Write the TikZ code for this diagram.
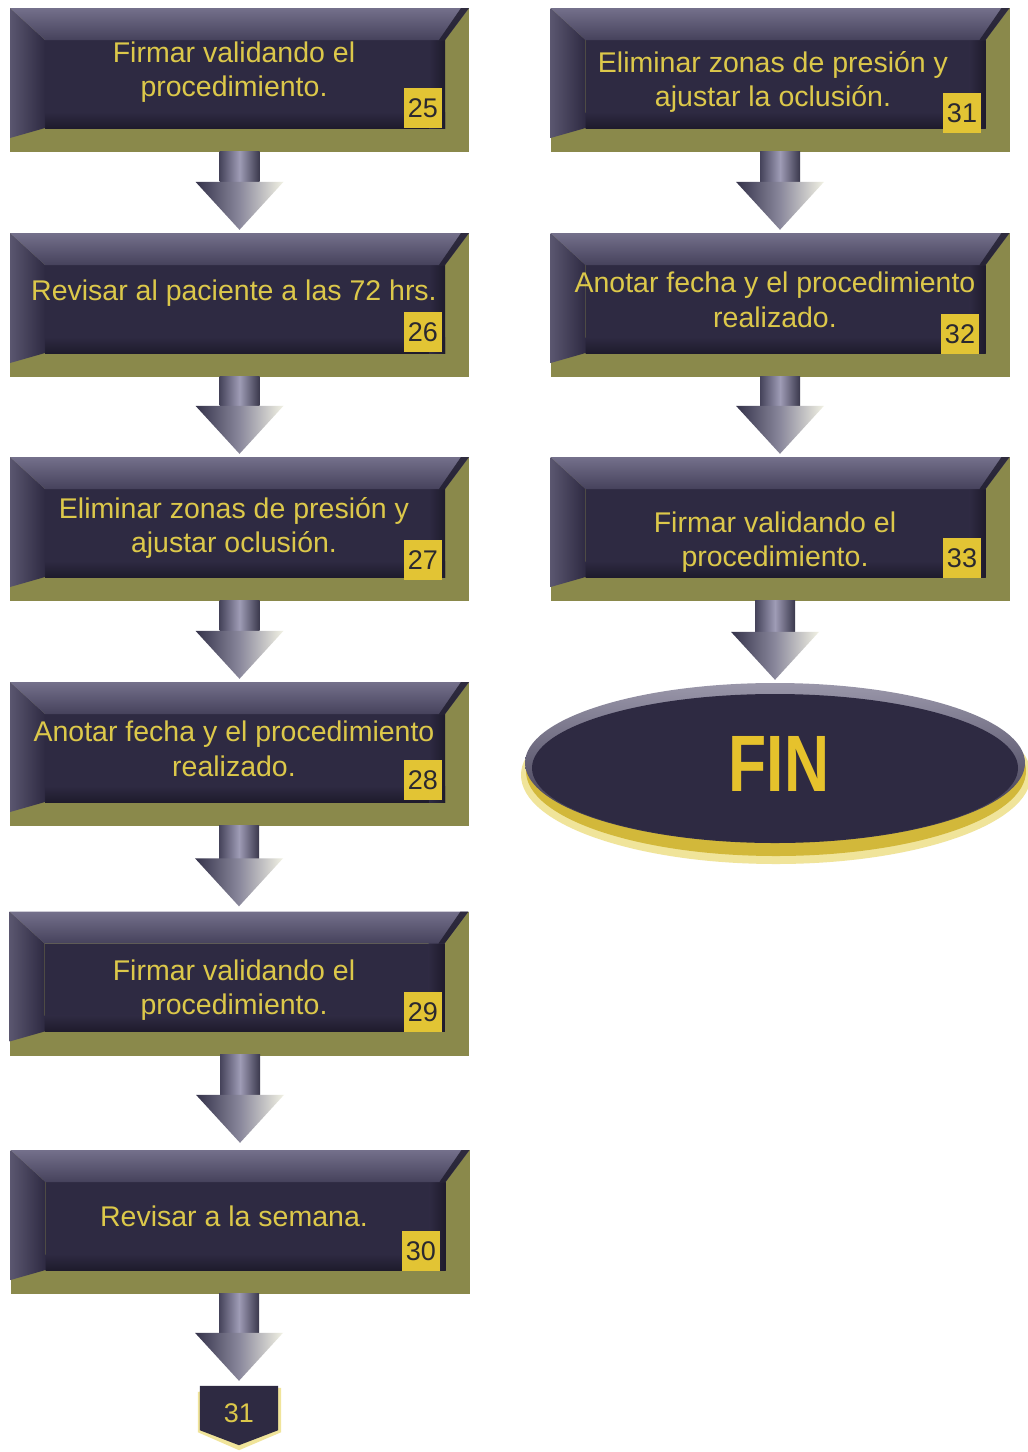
\documentclass[tikz,border=0pt]{standalone}
\usepackage{fontspec}
\setmainfont{Liberation Sans}
\usetikzlibrary{calc,shapes.geometric}
\definecolor{navy}{HTML}{2E2A42}
\definecolor{navydk}{HTML}{1E1B2C}
\definecolor{olivec}{HTML}{8A894B}
\definecolor{bevtop}{HTML}{74708B}
\definecolor{bevtopb}{HTML}{46425C}
\definecolor{bevleft}{HTML}{5A566F}
\definecolor{txtyel}{HTML}{DCC84A}
\definecolor{badgey}{HTML}{E2C434}
\definecolor{badgetxt}{HTML}{2A2830}
\definecolor{arrL}{HTML}{45435A}
\definecolor{arrM}{HTML}{9F9CB6}
\definecolor{arrR}{HTML}{3A384C}
\definecolor{headL}{HTML}{34324A}
\definecolor{headM}{HTML}{8A889C}
\definecolor{headR}{HTML}{F2F2E4}
\definecolor{finyel}{HTML}{E6C22C}
\definecolor{glowA}{HTML}{F0E49A}
\definecolor{glowB}{HTML}{D2B83A}
\definecolor{rimgray}{HTML}{9A97AA}
\tikzset{
  stepbox/.style={rectangle, minimum width=459pt, minimum height=144pt, inner sep=0pt,
    fill=olivec,
    path picture={
      \path (path picture bounding box.north west) coordinate (pnw)
            (path picture bounding box.north east) coordinate (pne)
            (path picture bounding box.south west) coordinate (psw)
            (path picture bounding box.south east) coordinate (pse);
      \fill[navy] ($(pnw)+(35,32)$) rectangle ($(pse)+(-24,-24)$);
      \shade[top color=navy, bottom color=navydk] ($(psw)+(35,-40)$) rectangle ($(pse)+(-24,-24)$);
      \shade[left color=navy, right color=navydk] ($(pne)+(-40,32)$) rectangle ($(pse)+(-24,-24)$);
      \shade[left color=bevleft, right color=navy] (pnw) -- ($(pnw)+(35,32)$) -- ($(psw)+(35,-24)$) -- ($(psw)+(0,-14)$) -- cycle;
      \shade[top color=bevtop, bottom color=bevtopb] (pnw) -- (pne) -- ($(pne)+(-24,32)$) -- ($(pnw)+(35,32)$) -- cycle;
      \fill[navydk, opacity=.8] (pne) -- ($(pne)+(-24,32)$) -- ($(pne)+(-30,32)$) -- ($(pne)+(-8,0)$) -- cycle;
    }},
  steptext/.style={text=txtyel, align=center, inner sep=0pt,
    font=\fontsize{28.5}{34.5}\selectfont},
  badge/.style={rectangle, minimum width=38pt, minimum height=40pt, inner sep=0pt,
    fill=badgey, text=badgetxt, font=\fontsize{27}{27}\selectfont},
  finnode/.style={ellipse, minimum width=500pt, minimum height=160pt, inner sep=0pt},
  conn/.style={rectangle, minimum width=78pt, minimum height=44pt, inner sep=0pt}
}
\newcommand\stepnode[8]{%
  \node[stepbox] (#1) at (#2,#3) {};
  \node[steptext] (#1t) at (#4) {#5};
  \node[badge] (#1b) at (#6,#7) {#8};
}
\newcommand\flowarrow[3]{%
  \shade[left color=arrL, right color=arrR, middle color=arrM]
    ($(#1.south -| #2.north)+(-20,-1)$) -- ($(#1.south -| #2.north)+(20,-1)$) -- ($(#2.north)+(20,-#3-48)$) -- ($(#2.north)+(-20,-#3-48)$) -- cycle;
  \shade[left color=headL, right color=headR, middle color=headM]
    ($(#2.north)+(-44,-#3-48)$) -- ($(#2.north)+(44,-#3-48)$) -- ($(#2.north)+(0,-#3)$) -- cycle;
}
\begin{document}
\begin{tikzpicture}[x=1pt,y=-1pt]
\useasboundingbox (0,0) rectangle (1028,1452);
\fill[white] (0,0) rectangle (1028,1452);

\stepnode{s25}{239.5}{80}{234,72}{Firmar validando el\\procedimiento.}{423}{108}{25}
\stepnode{s26}{239.5}{305}{234,293}{Revisar al paciente a las 72 hrs.}{423}{332}{26}
\stepnode{s27}{239.5}{529}{234,528}{Eliminar zonas de presión y\\ajustar oclusión.}{423}{560}{27}
\stepnode{s28}{239.5}{754}{234,749}{Anotar fecha y el procedimiento\\realizado.}{423}{780}{28}
\stepnode{s29}{239}{983.5}{234,990}{Firmar validando el\\procedimiento.}{423}{1012}{29}
\stepnode{s30}{240}{1222}{234,1216}{Revisar a la semana.}{421}{1251}{30}
\stepnode{s31}{780}{80}{773,82}{Eliminar zonas de presión y\\ajustar la oclusión.}{962}{113}{31}
\stepnode{s32}{780}{305}{775,300}{Anotar fecha y el procedimiento\\realizado.}{960}{334}{32}
\stepnode{s33}{780}{529}{775,542}{Firmar validando el\\procedimiento.}{962}{558}{33}

% FIN ellipse
\fill[glowA] (776,775) ellipse [x radius=255, y radius=89];
\fill[glowB] (776,771) ellipse [x radius=250, y radius=85];
\node[finnode, top color=rimgray, bottom color=navy] (fin) at (775,763) {};
\fill[navy] (775,768) ellipse [x radius=243, y radius=74];
\node[text=finyel, font=\fontsize{80}{80}\selectfont\bfseries, inner sep=0pt] (fint) at (779,764) {\scalebox{0.78}[1]{FIN}};

% off-page connector 31
\node[conn] (c31) at (239,1408) {};
\fill[glowA] ($(c31.north east)+(3,2)$) -- ($(c31.south east)+(3,2)$) -- ($(c31.south)+(0,20)$) -- ($(c31.south west)+(-2,2)$) -- ($(c31.north west)+(-2,6)$) -- cycle;
\fill[navy] (c31.north west) -- (c31.north east) -- (c31.south east) -- ($(c31.south)+(0,15)$) -- (c31.south west) -- cycle;
\node[text=txtyel, font=\fontsize{27}{27}\selectfont, inner sep=0pt] (c31t) at (239,1413) {31};

% arrows
\flowarrow{s25}{s26}{3}
\flowarrow{s26}{s27}{3}
\flowarrow{s27}{s28}{3}
\flowarrow{s28}{s29}{5}
\flowarrow{s29}{s30}{7}
\flowarrow{s30}{c31}{5}
\flowarrow{s31}{s32}{3}
\flowarrow{s32}{s33}{3}
\flowarrow{s33}{fin}{3}
\end{tikzpicture}
\end{document}
